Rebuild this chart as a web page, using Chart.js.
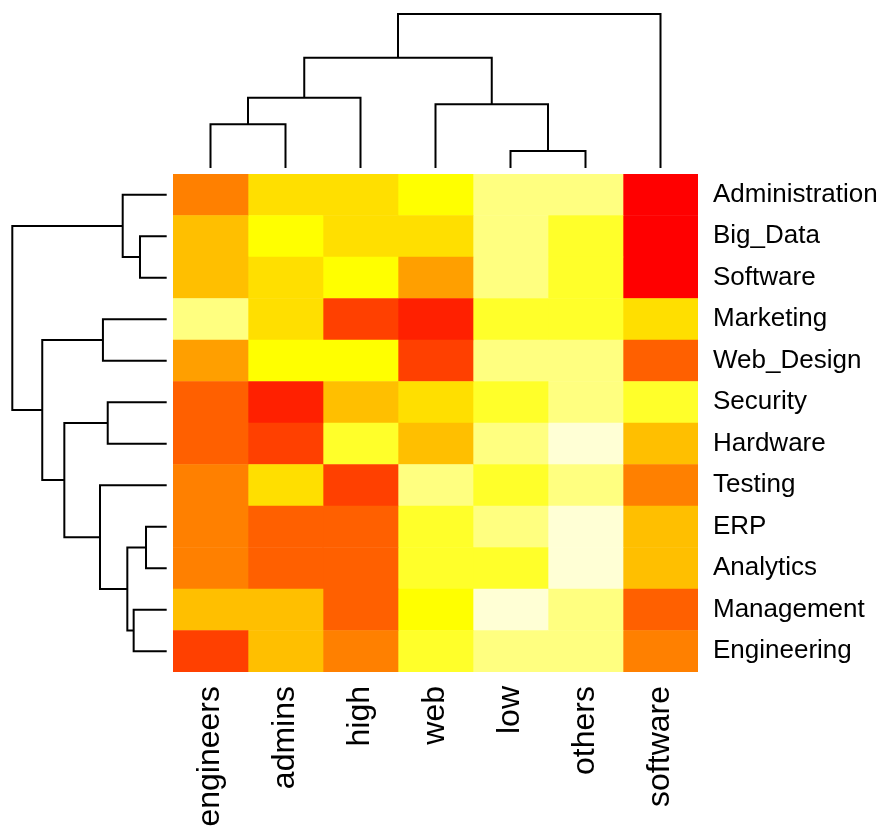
<!DOCTYPE html>
<html>
<head>
<meta charset="utf-8">
<script src="https://cdn.jsdelivr.net/npm/chart.js@4.4.1/dist/chart.umd.min.js"></script>
<style>
  html, body { margin: 0; padding: 0; background: #fff; }
  #wrap { position: relative; width: 878px; height: 829px; overflow: hidden; }
  canvas { position: absolute; }
</style>
</head>
<body>
<div id="wrap">
  <canvas id="heat" width="705" height="655" style="left:173px;top:174px"></canvas>
  <canvas id="colTree" width="525" height="174" style="left:173px;top:4px"></canvas>
  <canvas id="rowTree" width="175" height="498" style="left:2px;top:174px"></canvas>
</div>
<script>
// rows and columns in the order the dendrograms put them
const rowLabels = ['Administration', 'Big_Data', 'Software', 'Marketing', 'Web_Design', 'Security',
  'Hardware', 'Testing', 'ERP', 'Analytics', 'Management', 'Engineering'];
const colLabels = ['engineers', 'admins', 'high', 'web', 'low', 'others', 'software'];

// colour level per cell, 1 = red ... 12 = pale yellow (row by row, top to bottom)
const cellLevels = [
  [5, 8, 8, 9, 11, 11, 1],
  [7, 9, 8, 8, 11, 10, 1],
  [7, 8, 9, 6, 11, 10, 1],
  [11, 8, 3, 2, 10, 10, 8],
  [6, 9, 9, 3, 11, 11, 4],
  [4, 2, 7, 8, 10, 11, 10],
  [4, 3, 10, 7, 11, 12, 7],
  [5, 8, 3, 11, 10, 11, 5],
  [5, 4, 4, 10, 11, 12, 7],
  [5, 4, 4, 10, 10, 12, 7],
  [7, 7, 4, 9, 12, 11, 4],
  [3, 7, 5, 10, 11, 11, 5]
];

// merges: negative = leaf (1-based display position), positive = earlier merge
const colMerges = [[-1, -2], [1, -3], [-5, -6], [-4, 3], [2, 4], [5, -7]];
const colHeights = [2.84, 4.56, 1.10, 4.14, 7.16, 10.0];

const rowMerges = [[-2, -3], [-1, 1], [-9, -10], [-11, -12], [3, 4], [-6, -7],
  [-4, -5], [-8, 5], [6, 8], [7, 9], [2, 10]];
const rowHeights = [1.73, 2.85, 1.34, 2.14, 2.55, 3.82, 4.13, 4.32, 6.63, 8.06, 10.0];

// R heat.colors(12)
const heatColors = ['#FF0000', '#FF2000', '#FF4000', '#FF6000', '#FF8000', '#FF9F00',
  '#FFBF00', '#FFDF00', '#FFFF00', '#FFFF2A', '#FFFF80', '#FFFFD5'];

const family = '"Liberation Sans", Arial, Helvetica, sans-serif';

function noPadding(ax) {
  ax.paddingTop = 0;
  ax.paddingBottom = 0;
  ax.paddingLeft = 0;
  ax.paddingRight = 0;
}

/* --------- heatmap --------- */
new Chart(document.getElementById('heat'), {
  type: 'bar',
  data: {
    labels: rowLabels,
    datasets: colLabels.map((name, c) => ({
      label: name,
      data: rowLabels.map(() => 1),
      backgroundColor: cellLevels.map(r => heatColors[r[c] - 1]),
      borderWidth: 0,
      barPercentage: 1,
      categoryPercentage: 1,
      stack: 'cells'
    }))
  },
  options: {
    indexAxis: 'y',
    responsive: false,
    animation: false,
    layout: { padding: 0 },
    plugins: { legend: { display: false }, tooltip: { enabled: false } },
    scales: {
      x: {
        type: 'linear',
        stacked: true,
        min: 0,
        max: 7,
        grid: { display: false, drawTicks: false },
        border: { display: false },
        afterBuildTicks: ax => { ax.ticks = colLabels.map((_, i) => ({ value: i + 0.5 })); },
        afterFit: ax => { ax.height = 157; noPadding(ax); },
        ticks: {
          autoSkip: false,
          minRotation: 90,
          maxRotation: 90,
          padding: 14,
          color: '#000',
          font: { size: 32, family },
          callback: v => colLabels[Math.floor(v)]
        }
      },
      y: {
        position: 'right',
        stacked: true,
        grid: { display: false, drawTicks: false },
        border: { display: false },
        afterFit: ax => { ax.width = 180; noPadding(ax); },
        ticks: { padding: 15, color: '#000', font: { size: 26, family } }
      }
    }
  }
});

/* --------- dendrograms --------- */
function treeSegments(merges, heights, horizontal) {
  const pos = [], hgt = [];
  const node = k => k < 0 ? { p: -k - 1, h: 0 } : { p: pos[k - 1], h: hgt[k - 1] };
  return merges.map(([a, b], i) => {
    const na = node(a), nb = node(b), h = heights[i];
    pos[i] = (na.p + nb.p) / 2;
    hgt[i] = h;
    const pts = [[na.p, na.h], [na.p, h], [nb.p, h], [nb.p, nb.h]];
    return {
      data: pts.map(([p, v]) => horizontal ? { x: v, y: p } : { x: p, y: v }),
      showLine: true,
      borderColor: '#000',
      borderWidth: 2,
      pointRadius: 0,
      clip: false
    };
  });
}

const hidden = { display: false };

new Chart(document.getElementById('colTree'), {
  type: 'scatter',
  data: { datasets: treeSegments(colMerges, colHeights, false) },
  options: {
    responsive: false,
    animation: false,
    layout: { padding: { top: 10, bottom: 10, left: 0, right: 0 } },
    plugins: { legend: hidden, tooltip: { enabled: false } },
    scales: {
      x: { type: 'linear', min: -0.5, max: colLabels.length - 0.5, display: false },
      y: { type: 'linear', min: 0, max: 10, display: false }
    }
  }
});

new Chart(document.getElementById('rowTree'), {
  type: 'scatter',
  data: { datasets: treeSegments(rowMerges, rowHeights, true) },
  options: {
    responsive: false,
    animation: false,
    layout: { padding: { top: 0, bottom: 0, left: 10.3, right: 10.3 } },
    plugins: { legend: hidden, tooltip: { enabled: false } },
    scales: {
      x: { type: 'linear', min: 0, max: 10, reverse: true, display: false },
      y: { type: 'linear', min: -0.5, max: rowLabels.length - 0.5, reverse: true, display: false }
    }
  }
});
</script>
</body>
</html>
